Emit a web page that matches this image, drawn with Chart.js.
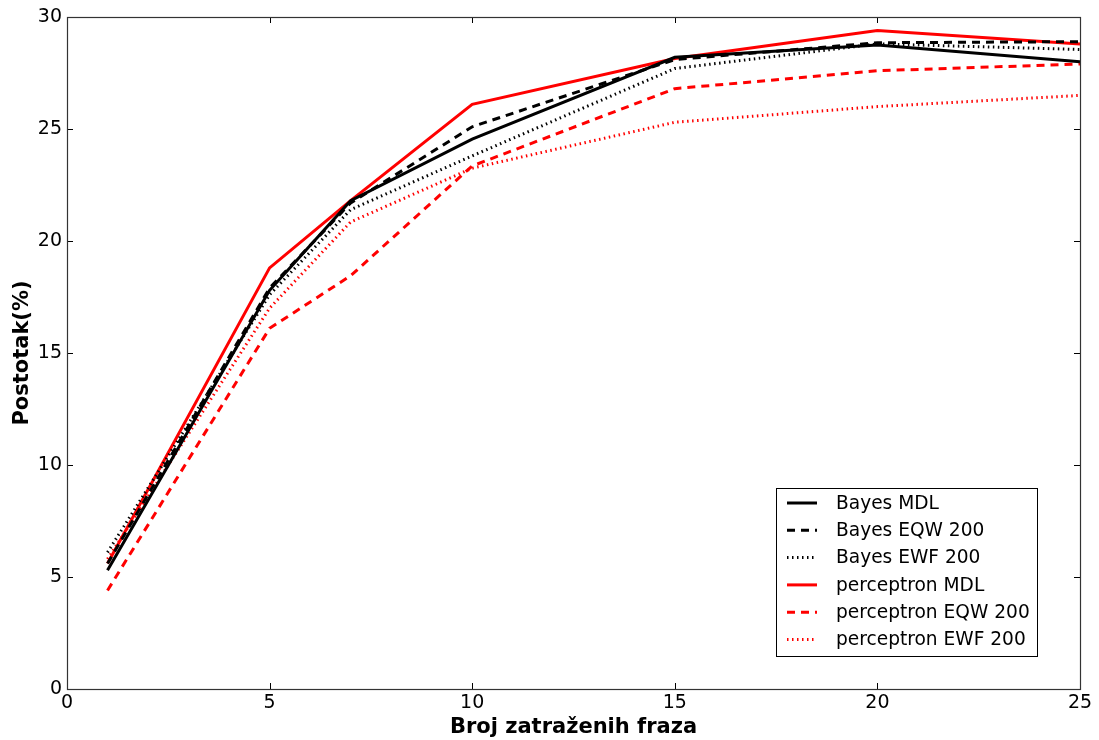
<!DOCTYPE html>
<html>
<head>
<meta charset="utf-8">
<script src="https://cdn.jsdelivr.net/npm/chart.js@4.4.1/dist/chart.umd.min.js"></script>
<style>
html,body{margin:0;padding:0;background:#fff;}
#wrap{width:1099px;height:740px;position:relative;}
</style>
</head>
<body>
<div id="wrap"><canvas id="c" width="1099" height="740"></canvas></div>
<script>
const xValues = [1, 5, 7, 10, 15, 20, 25];
const bayesMDL = [5.3, 17.8, 21.8, 24.55, 28.2, 28.75, 28.0];
const bayesEQW = [5.6, 17.9, 21.7, 25.1, 28.1, 28.85, 28.9];
const bayesEWF = [6.1, 17.6, 21.4, 23.8, 27.7, 28.8, 28.55];
const percMDL = [5.6, 18.8, 21.8, 26.1, 28.15, 29.4, 28.8];
const percEQW = [4.4, 16.1, 18.45, 23.35, 26.8, 27.6, 27.9];
const percEWF = [5.8, 17.0, 20.85, 23.25, 25.3, 26.0, 26.5];
const seriesNames = ['Bayes MDL', 'Bayes EQW 200', 'Bayes EWF 200', 'perceptron MDL', 'perceptron EQW 200', 'perceptron EWF 200'];
const xTicks = [0, 5, 10, 15, 20, 25];
const yTicks = [0, 5, 10, 15, 20, 25, 30];
const xTitle = 'Broj zatraženih fraza';
const yTitle = 'Postotak(%)';

const FONT = '"DejaVu Sans", sans-serif';
const dashed = [8, 6];
const dotted = [1.5, 3.5];

function pts(arr){ return xValues.map((x,i)=>({x:x, y:arr[i]})); }
function ds(label, arr, color, dash){
  return {label, data: pts(arr), borderColor: color, backgroundColor: color,
    borderWidth: 3, borderDash: dash, pointRadius: 0, tension: 0, fill: false,
    borderCapStyle: 'butt', borderJoinStyle: 'miter'};
}
const datasets = [
  ds(seriesNames[0], bayesMDL, '#000000', []),
  ds(seriesNames[1], bayesEQW, '#000000', dashed),
  ds(seriesNames[2], bayesEWF, '#000000', dotted),
  ds(seriesNames[3], percMDL, '#ff0000', []),
  ds(seriesNames[4], percEQW, '#ff0000', dashed),
  ds(seriesNames[5], percEWF, '#ff0000', dotted),
];

const framePlugin = {
  id: 'frame',
  afterDatasetsDraw(chart){
    const ctx = chart.ctx, a = chart.chartArea;
    const xs = chart.scales.x, ys = chart.scales.y;
    ctx.save();
    ctx.strokeStyle = '#000';
    ctx.lineWidth = 1;
    ctx.beginPath();
    const L = 6;
    xTicks.forEach(v=>{
      const p = Math.round(xs.getPixelForValue(v)) + 0.5;
      ctx.moveTo(p, a.bottom); ctx.lineTo(p, a.bottom - L);
      ctx.moveTo(p, a.top); ctx.lineTo(p, a.top + L);
    });
    yTicks.forEach(v=>{
      const p = Math.round(ys.getPixelForValue(v)) + 0.5;
      ctx.moveTo(a.left, p); ctx.lineTo(a.left + L, p);
      ctx.moveTo(a.right, p); ctx.lineTo(a.right - L, p);
    });
    ctx.stroke();
    ctx.strokeStyle = '#333';
    ctx.lineWidth = 1.2;
    ctx.strokeRect(Math.round(a.left)+0.5, Math.round(a.top)+0.5, Math.round(a.right-a.left), Math.round(a.bottom-a.top));
    // legend
    const bx = 776.5, by = 488.5, bw = 261, bh = 168;
    ctx.fillStyle = '#fff';
    ctx.fillRect(bx, by, bw, bh);
    ctx.strokeStyle = '#000';
    ctx.lineWidth = 1;
    ctx.strokeRect(bx, by, bw, bh);
    ctx.font = '18.6px ' + FONT;
    ctx.textBaseline = 'middle';
    ctx.textAlign = 'left';
    chart.data.datasets.forEach((d,i)=>{
      const yy = 503 + i*27.3;
      ctx.beginPath();
      ctx.setLineDash(d.borderDash || []);
      ctx.lineCap = 'butt';
      ctx.strokeStyle = d.borderColor;
      ctx.lineWidth = 3;
      ctx.moveTo(787, yy); ctx.lineTo(817, yy);
      ctx.stroke();
      ctx.setLineDash([]);
      ctx.fillStyle = '#000';
      ctx.fillText(d.label, 836, yy + 1);
    });
    ctx.restore();
  }
};

new Chart(document.getElementById('c'), {
  type: 'line',
  data: { datasets },
  options: {
    responsive: false,
    animation: false,
    devicePixelRatio: 1,
    layout: { padding: { top: 17, right: 19, left: 0, bottom: 0 } },
    plugins: { legend: { display: false }, tooltip: { enabled: false } },
    scales: {
      x: {
        type: 'linear', min: 0, max: 25,
        afterBuildTicks(s){ s.ticks = xTicks.map(v=>({value:v})); },
        afterFit(s){ s.height = 51; },
        grid: { display: false, drawTicks: false },
        border: { display: false },
        ticks: { color: '#000', font: { family: FONT, size: 19 }, padding: 3, maxRotation: 0 },
        title: { display: true, text: xTitle, color: '#000', font: { family: FONT, size: 21, weight: 'bold' }, padding: { top: -4, bottom: 0 } }
      },
      y: {
        type: 'linear', min: 0, max: 30,
        afterBuildTicks(s){ s.ticks = yTicks.map(v=>({value:v})); },
        afterFit(s){ s.width = 67; },
        grid: { display: false, drawTicks: false },
        border: { display: false },
        ticks: { color: '#000', font: { family: FONT, size: 19 }, padding: 5 },
        title: { display: true, text: yTitle, color: '#000', font: { family: FONT, size: 21, weight: 'bold' }, padding: { top: 10, bottom: 0 } }
      }
    }
  },
  plugins: [framePlugin]
});
</script>
</body>
</html>
